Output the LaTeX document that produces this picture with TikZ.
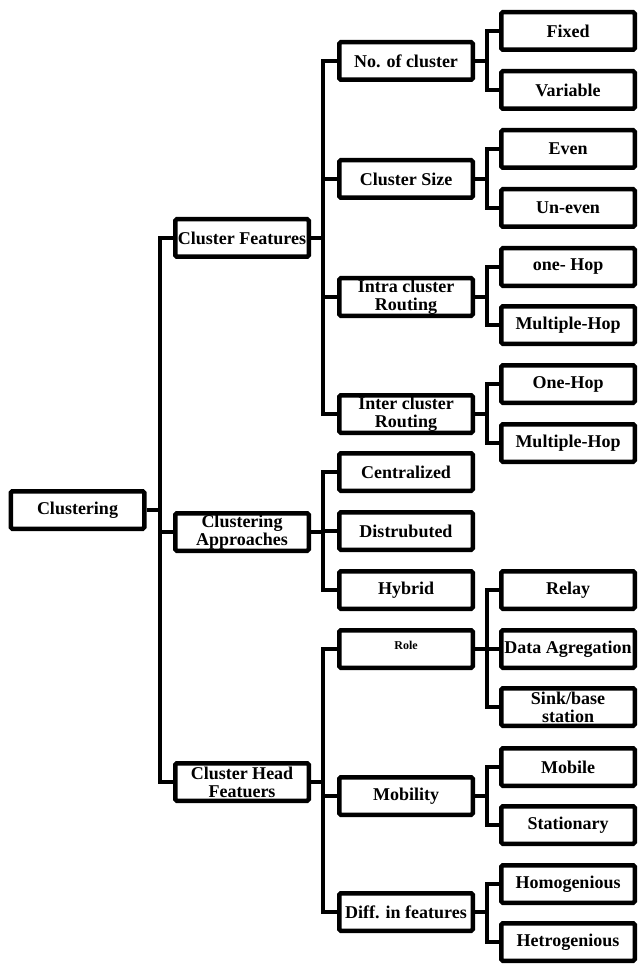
\documentclass[tikz,border=0pt]{standalone}
\usepackage{fontspec}
\setmainfont{Liberation Serif}
\usepackage{tikz}

\begin{document}
\begin{tikzpicture}[x=1pt,y=-1pt,
	box/.style={draw,line width=4.5pt,rounded corners=1.5pt,minimum width=133.5pt,minimum height=37.5pt,
		inner sep=1pt,align=center,font=\bfseries\fontsize{18}{18}\selectfont},
	conn/.style={line width=4.5pt}]
		\useasboundingbox (0,0) rectangle (638,965);
		%\draw [help lines] (0,0) grid[step=50] (638,965);
		\node [box] (clus) at (77.5,510) {Clustering};
		\node [box] (cf) at (242,238) {Cluster Features};
		\node [box] (ca) at (242,532) {Clustering\\Approaches};
		\node [box] (chf) at (242,782) {Cluster Head\\Featuers};
		%second column
		\node [box] (noc) at (406,61) {No. of cluster};
		\node [box] (csize) at (406,179) {Cluster Size};
		\node [box] (intra) at (406,297) {Intra cluster\\Routing};
		\node [box] (inter) at (406,414) {Inter cluster\\Routing};
		\node [box] (cent) at (406,472) {Centralized};
		\node [box] (dist) at (406,531) {Distrubuted};
		\node [box] (hyb) at (406,590) {Hybrid};
		\node [box,font=\bfseries\fontsize{12}{12}\selectfont] (role) at (406,649) {Role\\[-4pt]\mbox{}};
		\node [box] (mob) at (406,796) {Mobility};
		\node [box] (diff) at (406,912) {Diff. in features};
		%third column
		\node [box] (fix) at (568,31) {Fixed};
		\node [box] (var) at (568,90) {Variable};
		\node [box] (even) at (568,149) {Even};
		\node [box] (uneven) at (568,208) {Un-even};
		\node [box] (ohop) at (568,267) {one- Hop};
		\node [box] (mhop) at (568,325) {Multiple-Hop};
		\node [box] (ohopb) at (568,384) {One-Hop};
		\node [box] (mhopb) at (568,443) {Multiple-Hop};
		\node [box] (relay) at (568,590) {Relay};
		\node [box] (agg) at (568,649) {Data Agregation};
		\node [box] (sink) at (568,707) {Sink/base\\station};
		\node [box] (mobile) at (568,767) {Mobile};
		\node [box] (stat) at (568,825) {Stationary};
		\node [box] (homo) at (568,884) {Homogenious};
		\node [box] (hetro) at (568,942) {Hetrogenious};
		%the trunks
		\coordinate (t1) at (160,0);
		\coordinate (t2) at (323,0);
		\coordinate (t3) at (487,0);
		\draw [conn] (clus.east) -- (clus.east -| t1);
		\draw [conn] (cf.west) -| (t1 |- chf.west) -- (chf.west);
		\draw [conn] (ca.west) -- (ca.west -| t1);
		\foreach \p/\a/\b in {cf/noc/inter, ca/cent/hyb, chf/role/diff}
			{
			\draw [conn] (\p.east) -- (\p.east -| t2);
			\draw [conn] (\a.west) -| (t2 |- \b.west) -- (\b.west);
			}
		\foreach \c in {csize, intra, dist, mob}
			\draw [conn] (\c.west) -- (\c.west -| t2);
		\foreach \p/\a/\b in {noc/fix/var, csize/even/uneven, intra/ohop/mhop, inter/ohopb/mhopb, role/relay/sink, mob/mobile/stat, diff/homo/hetro}
			{
			\draw [conn] (\p.east) -- (\p.east -| t3);
			\draw [conn] (\a.west) -| (t3 |- \b.west) -- (\b.west);
			}
		\draw [conn] (agg.west) -- (agg.west -| t3);
\end{tikzpicture}
\end{document}
